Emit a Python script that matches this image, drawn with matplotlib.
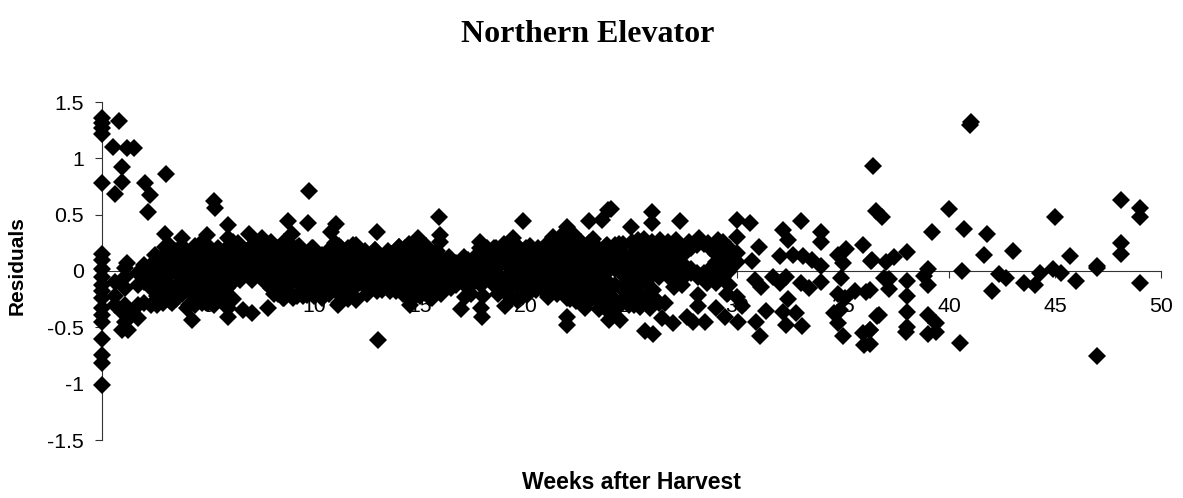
import matplotlib
matplotlib.use('Agg')
import matplotlib.pyplot as plt

# points stacked on the y axis (week 0)
week0_resid = [1.355, 1.31, 1.27, 1.22, 0.78, 0.155, 0.1, 0.02, -0.05, -0.12, -0.18, -0.24,
               -0.33, -0.39, -0.45, -0.6, -0.745, -0.82, -1.01]

# points that stand out of the band, early weeks
early_weeks = [0.79, 0.54, 1.16, 1.51, 0.94, 0.94, 0.61, 2.03, 2.27, 2.16, 3.0, 5.3, 5.33, 2.97, 3.76,
               4.97, 5.96, 5.96, 5.9, 6.94, 7.54, 8.0, 8.8, 8.95, 8.8, 9.73, 9.77, 11.05, 10.8, 12.0,
               9.98, 10.6, 4.67, 2.97, 2.5, 1.16, 1.95, 0.93, 1.24, 1.4, 0.93, 4.23, 5.93, 5.93, 6.67,
               7.07, 7.85, 8.56, 9.66, 11.15, 11.95, 2.66, 3.2, 4.0, 4.8]
early_resid = [1.335, 1.1, 1.09, 1.09, 0.925, 0.79, 0.68, 0.78, 0.675, 0.525, 0.86, 0.625, 0.56, 0.33, 0.29,
               0.32, 0.41, 0.29, 0.2, 0.33, 0.29, 0.26, 0.44, 0.33, 0.26, 0.425, 0.71, 0.42, 0.35, 0.23,
               0.2, 0.17, 0.245, 0.215, 0.14, 0.07, 0.025, -0.525, -0.525, -0.36, -0.36, -0.435, -0.405, -0.33, -0.345,
               -0.375, -0.33, -0.24, -0.21, -0.3, -0.24, -0.27, -0.27, -0.33, -0.27]

# middle weeks
mid_weeks = [15.91, 19.9, 12.97, 13.05, 23.9, 23.6, 23.0, 21.94, 15.96, 15.96, 17.85, 19.42, 14.94, 14.0, 12.9,
             21.3, 22.25, 23.35, 23.83, 12.97, 13.9, 14.55, 15.57, 16.95, 17.14, 17.88, 17.96, 18.4, 19.03,
             19.6, 20.05, 21.07, 21.94, 21.94, 21.94, 22.8, 23.45, 23.95]
mid_resid = [0.475, 0.44, 0.35, -0.61, 0.54, 0.45, 0.44, 0.39, 0.32, 0.26, 0.26, 0.29, 0.29, 0.215, 0.19,
             0.3, 0.33, 0.215, 0.23, -0.175, -0.18, -0.3, -0.24, -0.34, -0.23, -0.33, -0.405, -0.11, -0.31,
             -0.26, -0.21, -0.23, -0.24, -0.405, -0.48, -0.33, -0.34, -0.435]

# weeks 24 to 36
late_weeks = [24.05, 24.96, 25.95, 25.95, 27.3, 29.96, 30.6, 29.96, 31.03, 30.67, 29.96, 29.96, 32.16, 32.4, 32.98,
              33.97, 33.97, 35.15, 34.76, 35.94, 36.33, 32.0, 32.64, 33.1, 33.5, 33.97, 35.0, 34.9, 33.97, 33.4,
              33.0, 32.0, 31.7, 32.3, 30.83, 31.1, 32.4, 32.16, 32.76, 32.3, 33.03, 31.33, 30.9, 31.06,
              34.76, 35.07, 35.55, 36.07, 34.55, 34.84, 34.76, 34.97, 35.94, 36.26, 36.0, 36.57,
              24.2, 24.6, 25.3, 25.95, 26.34, 27.1, 28.2, 29.1, 24.45, 24.0, 25.63, 26.0, 25.85, 26.42, 26.97,
              27.6, 27.9, 28.47, 28.15, 28.15, 29.0, 29.4, 30.04, 30.2, 30.0, 29.5, 29.0, 28.55, 28.15,
              27.0, 27.4, 26.0, 25.55, 24.9, 24.1]
late_resid = [0.55, 0.39, 0.52, 0.43, 0.44, 0.45, 0.43, 0.305, 0.215, 0.09, 0.157, 0.08, 0.36, 0.275, 0.44,
              0.35, 0.255, 0.195, 0.14, 0.23, 0.09, 0.13, 0.14, 0.13, 0.1, 0.04, 0.07, -0.065, -0.095, -0.155,
              -0.11, -0.11, -0.05, -0.05, -0.08, -0.145, -0.25, -0.36, -0.375, -0.48, -0.49, -0.355, -0.455, -0.575,
              -0.2, -0.24, -0.18, -0.19, -0.375, -0.345, -0.46, -0.58, -0.55, -0.52, -0.66, -0.4,
              0.23, 0.24, 0.275, 0.26, 0.275, 0.275, 0.29, 0.275, -0.435, -0.375, -0.53, -0.56, -0.33, -0.42, -0.465,
              -0.405, -0.45, -0.45, -0.315, -0.21, -0.33, -0.405, -0.45, -0.315, -0.23, -0.2, -0.11, -0.11, -0.05,
              -0.14, -0.12, -0.17, -0.23, -0.08, -0.23]

# right hand tail
tail_weeks = [41.0, 41.05, 36.4, 36.55, 36.85, 40.0, 39.2, 40.7, 41.8, 41.65, 43.0, 45.0, 45.7, 47.0, 47.0,
              48.1, 48.1, 48.1, 49.0, 49.0, 49.0, 47.0, 46.0, 45.3, 44.9, 44.3, 44.05, 43.55, 42.7, 42.35,
              42.0, 40.6, 39.0, 38.8, 39.0, 38.0, 37.4, 37.0, 36.35, 38.0, 38.0, 38.0, 38.0, 37.95,
              37.15, 36.9, 37.15, 36.7, 36.25, 36.25, 36.25, 39.0, 39.4, 39.0, 39.4, 40.5]
tail_resid = [1.3, 1.32, 0.93, 0.53, 0.48, 0.55, 0.35, 0.375, 0.33, 0.14, 0.18, 0.475, 0.13, 0.04, 0.03,
              0.63, 0.245, 0.155, 0.56, 0.48, -0.105, -0.755, -0.09, -0.02, 0.02, -0.015, -0.12, -0.11, -0.06, -0.03,
              -0.175, 0.0, 0.02, -0.04, -0.12, 0.17, 0.12, 0.08, 0.1, -0.09, -0.22, -0.365, -0.5, -0.54,
              -0.07, -0.06, -0.16, -0.39, -0.17, -0.52, -0.65, -0.39, -0.46, -0.56, -0.54, -0.635]

# the solid band in the middle, week by week
band_weeks = [0.6, 1.1, 1.7, 2.3, 2.9, 3.5, 4.1, 4.7, 5.3, 5.9, 6.5, 7.1, 7.7, 8.3, 8.9, 9.5, 10.1, 10.7, 11.3, 11.9,
              12.5, 13.1, 13.7, 14.3, 14.9, 15.5, 16.1, 16.7, 17.3, 17.9, 18.5, 19.1, 19.7, 20.3, 20.9, 21.5,
              22.1, 22.7, 23.3, 23.9, 24.5, 25.1, 25.7, 26.3, 26.9, 27.5, 28.1, 28.7, 29.3]
band_resid = [[-0.1, -0.22, -0.3], [-0.45, -0.3, -0.15, -0.05, 0.03], [-0.42, -0.3, -0.12, -0.02],
              [-0.3, -0.15, -0.05, 0.05], [-0.28, -0.18, -0.07, 0.03, 0.13], [-0.25, -0.13, -0.02, 0.08, 0.18],
              [-0.3, -0.18, -0.07, 0.05, 0.15], [-0.28, -0.15, -0.05, 0.06, 0.18], [-0.3, -0.17, -0.06, 0.05, 0.15],
              [-0.28, -0.15, -0.03, 0.08, 0.14], [-0.08, 0.02, 0.12, 0.22], [-0.08, 0.03, 0.13, 0.22],
              [-0.1, 0.0, 0.1, 0.2], [-0.2, -0.08, 0.03, 0.13, 0.2], [-0.2, -0.1, 0.0, 0.1, 0.2],
              [-0.15, -0.05, 0.05, 0.15], [-0.2, -0.1, 0.0, 0.1], [-0.2, -0.1, 0.02, 0.1],
              [-0.22, -0.1, 0.0, 0.1, 0.2], [-0.15, -0.05, 0.05, 0.15], [-0.15, -0.05, 0.05, 0.12],
              [-0.12, -0.02, 0.08, 0.14], [-0.15, -0.05, 0.05, 0.15], [-0.18, -0.08, 0.02, 0.12, 0.2],
              [-0.2, -0.1, 0.0, 0.1, 0.2], [-0.18, -0.08, 0.02, 0.12], [-0.15, -0.05, 0.05, 0.1],
              [-0.12, -0.02, 0.07], [-0.15, -0.05, 0.05, 0.1], [-0.12, -0.02, 0.08, 0.15], [-0.1, 0.0, 0.1, 0.2],
              [-0.18, -0.05, 0.05, 0.15, 0.22], [-0.15, -0.05, 0.05, 0.15, 0.2], [-0.12, -0.02, 0.08, 0.18],
              [-0.12, -0.02, 0.08, 0.18, 0.22], [-0.15, -0.05, 0.05, 0.15, 0.25],
              [-0.25, -0.15, -0.05, 0.05, 0.15, 0.28], [-0.2, -0.1, 0.0, 0.1, 0.2], [-0.2, -0.1, 0.0, 0.1],
              [-0.3, -0.2, -0.1, 0.0, 0.1, 0.18], [-0.28, -0.15, -0.02, 0.1, 0.18],
              [-0.3, -0.18, -0.05, 0.05, 0.15, 0.22], [-0.25, -0.1, 0.02, 0.12, 0.2], [-0.28, -0.05, 0.06, 0.16, 0.2],
              [-0.08, 0.03, 0.13, 0.22], [-0.05, 0.05, 0.15, 0.2], [-0.02, 0.23], [-0.05, 0.02, 0.2],
              [-0.05, 0.05, 0.15, 0.2]]

# second set of columns sitting between the ones above
fill_weeks = [2.0, 2.6, 3.2, 3.8, 4.4, 5.0, 5.6, 6.2, 6.8, 7.4, 8.0, 8.6, 9.2, 9.8, 10.4, 11.0, 11.6, 12.2, 12.8,
              13.4, 14.0, 14.6, 15.2, 15.8, 16.4, 17.0, 17.6, 18.2, 18.8, 19.4, 20.0, 20.6, 21.2, 21.8, 22.4,
              23.0, 23.6, 24.2, 24.8, 25.4, 26.0, 26.6, 27.2, 27.8, 28.4, 29.0, 29.6]
fill_resid = [[-0.28, -0.1, 0.05], [-0.22, -0.1, 0.0, 0.1], [-0.22, -0.12, -0.02, 0.08, 0.18],
              [-0.2, -0.1, 0.0, 0.1, 0.22], [-0.24, -0.12, 0.0, 0.1, 0.2], [-0.22, -0.1, 0.0, 0.12, 0.22],
              [-0.22, -0.1, 0.0, 0.1], [-0.1, -0.02, 0.07, 0.17, 0.26], [-0.02, 0.08, 0.18], [-0.02, 0.08, 0.18],
              [-0.15, -0.03, 0.08, 0.16], [-0.14, -0.04, 0.06, 0.16, 0.26], [-0.22, -0.1, 0.0, 0.1, 0.2],
              [-0.12, 0.0, 0.1, 0.18], [-0.15, -0.05, 0.05, 0.14], [-0.15, -0.05, 0.05, 0.15, 0.25],
              [-0.18, -0.08, 0.03, 0.12, 0.2], [-0.1, 0.0, 0.1, 0.16], [-0.1, 0.0, 0.1, 0.13], [-0.1, 0.0, 0.08, 0.15],
              [-0.12, -0.02, 0.08, 0.14], [-0.14, -0.04, 0.06, 0.16], [-0.14, -0.04, 0.06, 0.14],
              [-0.12, -0.02, 0.08, 0.14], [-0.1, 0.0, 0.08], [-0.08, 0.02, 0.1], [-0.08, 0.02, 0.12],
              [-0.06, 0.04, 0.14, 0.2], [-0.14, -0.04, 0.06, 0.16], [-0.12, 0.0, 0.1, 0.2], [-0.08, 0.02, 0.12, 0.2],
              [-0.08, 0.03, 0.13, 0.2], [-0.1, 0.0, 0.1, 0.2], [-0.2, -0.1, 0.0, 0.1, 0.2, 0.3],
              [-0.15, -0.05, 0.05, 0.15, 0.25], [-0.15, -0.05, 0.05, 0.15, 0.25], [-0.25, -0.15, -0.05, 0.05, 0.15],
              [-0.12, 0.02, 0.14], [-0.22, -0.1, 0.02, 0.12], [-0.12, 0.0, 0.1, 0.2], [-0.25, -0.02, 0.1, 0.18],
              [-0.28, 0.0, 0.1, 0.2], [-0.02, 0.08, 0.18], [-0.02, 0.02, 0.2], [-0.02, 0.24],
              [-0.02, 0.08, 0.15, 0.2], [-0.12, 0.0, 0.1, 0.2]]

# lower and upper rim of the band
lower_weeks = [2.6, 3.3, 4.4, 5.0, 5.5, 6.2, 8.1, 8.6, 9.0, 9.5, 10.0, 10.4, 11.2, 11.6, 12.0, 12.5, 13.2, 13.6, 14.2, 14.6,
               15.0, 15.5, 16.0, 16.5, 17.4, 18.0, 18.7, 19.3, 19.9, 20.5, 21.0, 21.5, 22.4, 23.0, 23.6, 24.3, 24.9, 25.4, 26.1]
lower_resid = [-0.3, -0.28, -0.3, -0.28, -0.26, -0.25, -0.2, -0.24, -0.24, -0.22, -0.22, -0.24, -0.28, -0.25, -0.26, -0.2, -0.17, -0.18, -0.2, -0.26,
               -0.22, -0.24, -0.2, -0.15, -0.2, -0.22, -0.2, -0.24, -0.22, -0.17, -0.2, -0.2, -0.27, -0.27, -0.3, -0.33, -0.3, -0.32, -0.25]
upper_weeks = [3.2, 4.4, 5.5, 6.4, 7.2, 7.9, 9.3, 9.9, 10.6, 11.2, 11.87, 12.4, 12.9, 13.5, 14.0, 14.5, 15.3, 15.8, 16.4, 17.1,
               17.85, 18.6, 19.0, 19.5, 20.2, 20.7, 21.2, 21.7, 22.1, 22.6, 23.2, 23.8, 24.4, 25.0, 25.6, 26.7, 27.7, 28.6, 29.3]
upper_resid = [0.22, 0.22, 0.2, 0.25, 0.24, 0.2, 0.22, 0.2, 0.16, 0.22, 0.23, 0.18, 0.19, 0.18, 0.215, 0.24, 0.22, 0.18, 0.12, 0.12,
               0.2, 0.2, 0.24, 0.24, 0.22, 0.18, 0.26, 0.32, 0.28, 0.26, 0.28, 0.22, 0.24, 0.26, 0.28, 0.26, 0.26, 0.25, 0.26]

x_ticks = [0, 5, 10, 15, 20, 25, 30, 35, 40, 45, 50]
x_tick_labels = ['', '5', '10', '15', '20', '25', '30', '35', '40', '45', '50']
y_ticks = [-1.5, -1, -0.5, 0, 0.5, 1, 1.5]
y_tick_labels = ['-1.5', '-1', '-0.5', '0', '0.5', '1', '1.5']

plt.rcParams['font.family'] = ['Liberation Sans', 'DejaVu Sans']

fig = plt.figure(figsize=(11.83, 4.98), dpi=100)
ax = fig.add_axes([102 / 1183, 1 - 440 / 498, 1059 / 1183, 338 / 498])


def diamonds(weeks, resid):
    ax.plot(weeks, resid, linestyle='none', marker='D', color='black', markersize=8.8,
            markeredgewidth=0, clip_on=False, zorder=3)


diamonds([0] * len(week0_resid), week0_resid)
diamonds(early_weeks, early_resid)
diamonds(mid_weeks, mid_resid)
diamonds(late_weeks, late_resid)
diamonds(tail_weeks, tail_resid)
diamonds(lower_weeks, lower_resid)
diamonds(upper_weeks, upper_resid)
for wk, vals in zip(band_weeks + fill_weeks, band_resid + fill_resid):
    diamonds([wk] * len(vals), vals)

ax.set_xlim(0, 50)
ax.set_ylim(-1.5, 1.5)
ax.set_axisbelow(True)
ax.spines['top'].set_visible(False)
ax.spines['right'].set_visible(False)
ax.spines['left'].set_position(('data', 0))
ax.spines['bottom'].set_position(('data', 0))
for side in ['left', 'bottom']:
    ax.spines[side].set_linewidth(0.8)
    ax.spines[side].set_color('#333333')
    ax.spines[side].set_zorder(1)

ax.set_xticks(x_ticks)
ax.set_xticklabels(x_tick_labels)
ax.set_yticks(y_ticks)
ax.set_yticklabels(y_tick_labels)
ax.tick_params(axis='x', length=5, width=0.8, color='#333333', labelsize=15.3, pad=14)
ax.tick_params(axis='y', length=5, width=0.8, color='#333333', labelsize=15.3, pad=8)

fig.text(588 / 1183, 1 - 35 / 498, 'Northern Elevator', family=['Liberation Serif', 'DejaVu Serif'],
         fontsize=23, fontweight='bold', ha='center', va='center')
fig.text(631.5 / 1183, 1 - 482 / 498, 'Weeks after Harvest', fontsize=16.6, fontweight='bold', ha='center', va='center')
fig.text(17 / 1183, 1 - 266 / 498, 'Residuals', fontsize=15, fontweight='bold', rotation=90, ha='center', va='center')

fig.savefig('out.png', dpi=100)
